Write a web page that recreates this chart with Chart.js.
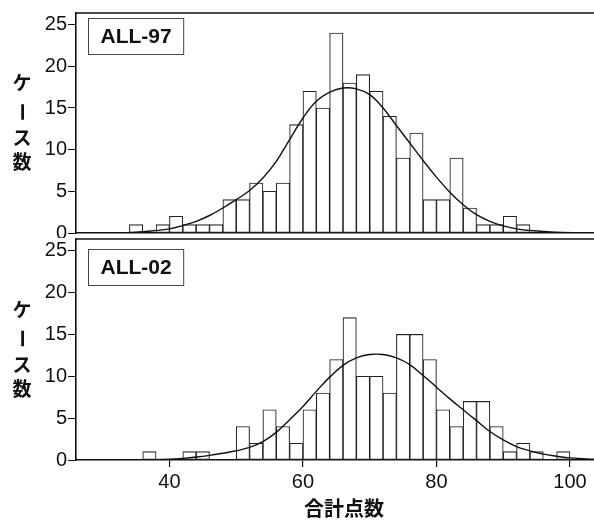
<!DOCTYPE html>
<html>
<head>
<meta charset="utf-8">
<script src="https://cdn.jsdelivr.net/npm/chart.js@4"></script>
<style>
  body { margin: 0; background: #fff; }
  #wrap { position: relative; width: 594px; height: 522px; }
  canvas { position: absolute; left: 0; }
  #top { top: 0; }
  #bottom { top: 238px; }
</style>
</head>
<body>
<div id="wrap">
  <canvas id="top" width="594" height="238"></canvas>
  <canvas id="bottom" width="594" height="284"></canvas>
</div>
<script>
// histogram bins (centre of each 2-point bin) and counts
const bins97 = [35, 37, 39, 41, 43, 45, 47, 49, 51, 53, 55, 57, 59, 61, 63, 65, 67, 69, 71, 73, 75, 77, 79, 81, 83, 85, 87, 89, 91, 93];
const counts97 = [1, 0, 1, 2, 1, 1, 1, 4, 4, 6, 5, 6, 13, 17, 15, 24, 18, 19, 17, 14, 9, 12, 4, 4, 9, 3, 1, 1, 2, 1];

const bins02 = [37, 39, 41, 43, 45, 47, 49, 51, 53, 55, 57, 59, 61, 63, 65, 67, 69, 71, 73, 75, 77, 79, 81, 83, 85, 87, 89, 91, 93, 95, 97, 99];
const counts02 = [1, 0, 0, 1, 1, 0, 0, 4, 2, 6, 4, 2, 6, 8, 12, 17, 10, 10, 8, 15, 15, 12, 6, 4, 7, 7, 4, 1, 2, 1, 0, 1];

// fitted normal curves
const curveX97 = [34, 38, 40, 42, 44, 46, 48, 50, 52, 54, 56, 58, 60, 62, 64, 66, 68, 70, 72, 74, 76, 78, 80, 82, 84, 86, 88, 90, 92, 94, 98, 104];
const curveY97 = [0.05, 0.3, 0.5, 0.9, 1.4, 2.1, 3.0, 4.0, 5.1, 6.6, 8.6, 11.2, 13.8, 15.8, 16.9, 17.4, 17.3, 16.6, 15.0, 12.9, 10.8, 8.7, 6.7, 4.9, 3.4, 2.2, 1.4, 0.85, 0.5, 0.3, 0.1, 0.02];

const curveX02 = [36, 40, 42, 44, 46, 48, 50, 52, 54, 56, 58, 60, 62, 64, 66, 68, 70, 72, 74, 76, 78, 80, 82, 84, 86, 88, 90, 92, 94, 96, 98, 100, 104];
const curveY02 = [0.0, 0.1, 0.2, 0.35, 0.55, 0.8, 1.1, 1.5, 2.2, 3.3, 4.8, 6.4, 8.2, 9.9, 11.3, 12.2, 12.6, 12.6, 12.2, 11.4, 10.1, 8.7, 7.3, 6.0, 4.7, 3.4, 2.4, 1.6, 1.1, 0.7, 0.45, 0.25, 0.08];

const xTicks = [40, 60, 80, 100];
const yTicks = [0, 5, 10, 15, 20, 25];
const xMin = 26, xMax = 103.6, yMax = 26.4;

const tickFont = { family: "'Liberation Sans Narrow', 'Liberation Sans', Arial, sans-serif", size: 20 };
const cjk = "'Noto Sans CJK JP', 'Noto Sans CJK SC', sans-serif";

const panelDeco = {
  id: 'panelDeco',
  afterDraw(chart, args, opts) {
    const { ctx, chartArea: a } = chart;
    ctx.save();
    // top frame line
    ctx.strokeStyle = '#111';
    ctx.lineWidth = 1.5;
    ctx.beginPath();
    ctx.moveTo(a.left, a.top);
    ctx.lineTo(a.right, a.top);
    ctx.stroke();
    // label box
    ctx.font = "bold 21px 'Liberation Sans', Arial, sans-serif";
    const w = ctx.measureText(opts.label).width + 24;
    const bx = a.left + 12, by = a.top + opts.boxTop;
    ctx.fillStyle = '#fff';
    ctx.fillRect(bx, by, w, 36);
    ctx.lineWidth = 1;
    ctx.strokeStyle = '#444';
    ctx.strokeRect(bx + 0.5, by + 0.5, w, 36);
    ctx.fillStyle = '#111';
    ctx.textAlign = 'center';
    ctx.textBaseline = 'middle';
    ctx.fillText(opts.label, bx + w / 2 + 0.5, by + 19);
    // vertical axis title ケース数
    const cy = (a.top + a.bottom) / 2;
    const chars = ['ケ', 'ー', 'ス', '数'];
    const offs = [-40, -11, 15, 39];
    ctx.font = 'bold 19px ' + cjk;
    chars.forEach((c, i) => {
      ctx.save();
      ctx.translate(22, cy + offs[i]);
      if (c === 'ー') ctx.rotate(Math.PI / 2);
      ctx.fillText(c, 0, 0);
      ctx.restore();
    });
    if (opts.xTitle) {
      ctx.font = 'bold 20px ' + cjk;
      ctx.fillText(opts.xTitle, 344, a.bottom + 48);
    }
    ctx.restore();
  }
};

function makeChart(id, bins, counts, cx, cy, label, opts) {
  const barData = bins.map((b, i) => ({ x: b, y: counts[i] }));
  const lineData = cx.map((x, i) => ({ x, y: cy[i] }));
  return new Chart(document.getElementById(id), {
    type: 'bar',
    data: {
      datasets: [
        { type: 'line', data: lineData, borderColor: '#111', borderWidth: 1.4, pointRadius: 0, tension: 0.4, fill: false, order: 0 },
        { type: 'bar', data: barData, backgroundColor: '#fff', borderColor: '#222', borderWidth: 1.1, borderSkipped: false, barPercentage: 1, categoryPercentage: 1, order: 1 }
      ]
    },
    options: {
      responsive: false,
      animation: false,
      layout: { padding: { top: opts.padTop, bottom: opts.padBottom, left: 0, right: 0 } },
      plugins: {
        legend: { display: false },
        tooltip: { enabled: false },
        panelDeco: { label, boxTop: opts.boxTop, xTitle: opts.xTitle }
      },
      scales: {
        x: {
          type: 'linear', min: xMin, max: xMax, offset: false,
          afterBuildTicks: s => { s.ticks = xTicks.map(v => ({ value: v })); },
          afterFit: s => { s.height = opts.xHeight; s.paddingLeft = 0; s.paddingRight = 0; },
          grid: { display: opts.showX, offset: false, drawOnChartArea: false, drawTicks: true, tickLength: 7, color: '#111', lineWidth: 1.2 },
          border: { display: true, color: '#111', width: 1.6 },
          ticks: { display: opts.showX, color: '#111', font: tickFont, padding: 3, maxRotation: 0 }
        },
        y: {
          min: 0, max: yMax,
          afterBuildTicks: s => { s.ticks = yTicks.map(v => ({ value: v })); },
          afterFit: s => { s.width = 76; s.paddingTop = 0; s.paddingBottom = 0; },
          grid: { drawOnChartArea: false, drawTicks: true, tickLength: 8, color: '#111', lineWidth: 1 },
          border: { display: true, color: '#111', width: 1.6 },
          ticks: { color: '#111', font: tickFont, padding: 1 }
        }
      }
    },
    plugins: [panelDeco]
  });
}

makeChart('top', bins97, counts97, curveX97, curveY97, 'ALL-97',
  { padTop: 13, padBottom: 5, xHeight: 0, showX: false, boxTop: 5 });
makeChart('bottom', bins02, counts02, curveX02, curveY02, 'ALL-02',
  { padTop: 1, padBottom: 0, xHeight: 62, showX: true, boxTop: 10, xTitle: '合計点数' });
</script>
</body>
</html>
